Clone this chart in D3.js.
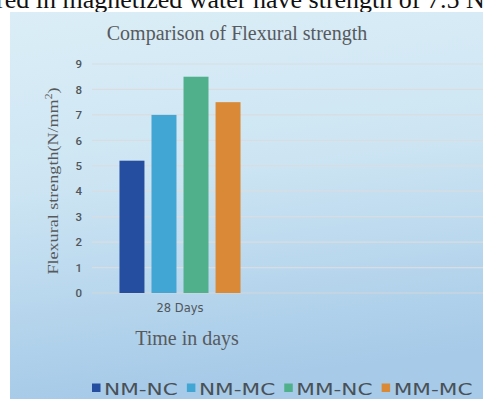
<!DOCTYPE html>
<html>
<head>
<meta charset="utf-8">
<script src="https://cdn.jsdelivr.net/npm/d3@7"></script>
<style>
  html, body { margin: 0; padding: 0; background: #ffffff; }
  svg { display: block; }
</style>
</head>
<body>
<svg id="chart" width="483" height="399"></svg>
<script>
// Flexural strength after 28 days for four mixes
const categories = ["28 Days"];
const seriesNames = ["NM-NC", "NM-MC", "MM-NC", "MM-MC"];
const seriesValues = [5.2, 7.0, 8.5, 7.5];
const seriesColors = ["#254ea1", "#41a6d4", "#4fb08b", "#da8a36"];
const yTicks = [0, 1, 2, 3, 4, 5, 6, 7, 8, 9];

const svg = d3.select("#chart");
const W = 483, H = 399;

// line of running text above the figure
svg.append("text")
  .attr("x", -4).attr("y", 8)
  .attr("font-family", "Liberation Serif, serif")
  .attr("font-size", 26)
  .attr("fill", "#111")
  .text("red in magnetized water have strength of 7.5 N/mm²");

// panel background gradient
const defs = svg.append("defs");
const grad = defs.append("linearGradient")
  .attr("id", "bg").attr("x1", 0).attr("y1", 0).attr("x2", 0.15).attr("y2", 1);
grad.append("stop").attr("offset", "0%").attr("stop-color", "#dbeef7");
grad.append("stop").attr("offset", "45%").attr("stop-color", "#cde5f3");
grad.append("stop").attr("offset", "100%").attr("stop-color", "#a6cae8");

svg.append("rect")
  .attr("x", 10).attr("y", 12)
  .attr("width", W - 10).attr("height", H - 12)
  .attr("fill", "url(#bg)");

// scales
const y = d3.scaleLinear().domain([0, 9]).range([293, 64]);
const x0 = d3.scaleBand().domain(categories).range([92, 268]).padding(0.185);
const x1 = d3.scaleBand().domain(seriesNames).range([0, x0.bandwidth()]).paddingInner(0.22);

// gridlines
svg.append("g")
  .selectAll("line")
  .data(yTicks)
  .join("line")
  .attr("x1", 92).attr("x2", W)
  .attr("y1", d => y(d)).attr("y2", d => y(d))
  .attr("stroke", d => d === 0 ? "#d3d8dc" : "#d9dde1")
  .attr("stroke-width", 1.2);

// y axis tick labels
const yAxis = d3.axisLeft(y).tickValues(yTicks).tickSize(0).tickPadding(0).tickFormat(d3.format("d"));
const gy = svg.append("g").attr("transform", "translate(82,0)").call(yAxis);
gy.select(".domain").remove();
gy.selectAll("text")
  .attr("font-family", "Roboto, sans-serif")
  .attr("font-size", 11.5)
  .attr("font-weight", 500)
  .attr("fill", "#51565a");

// bars
const group = svg.append("g")
  .selectAll("g")
  .data(categories)
  .join("g")
  .attr("transform", d => `translate(${x0(d)},0)`);

group.selectAll("rect")
  .data(() => seriesNames.map((s, i) => ({ name: s, value: seriesValues[i], color: seriesColors[i] })))
  .join("rect")
  .attr("x", d => x1(d.name))
  .attr("width", x1.bandwidth())
  .attr("y", d => y(d.value))
  .attr("height", d => y(0) - y(d.value))
  .attr("fill", d => d.color);

// x axis category labels
const xAxis = d3.axisBottom(x0).tickSize(0).tickPadding(0);
const gx = svg.append("g").attr("transform", "translate(0,304)").call(xAxis);
gx.select(".domain").remove();
gx.selectAll("text")
  .attr("font-family", "DejaVu Sans, sans-serif")
  .attr("font-size", 11.5)
  .attr("fill", "#51565a");

// chart title
svg.append("text")
  .attr("x", 237).attr("y", 40)
  .attr("text-anchor", "middle")
  .attr("font-family", "Liberation Serif, serif")
  .attr("font-size", 20)
  .attr("fill", "#575a5d")
  .text("Comparison of Flexural strength");

// axis titles
svg.append("text")
  .attr("x", 187).attr("y", 345)
  .attr("text-anchor", "middle")
  .attr("font-family", "Liberation Serif, serif")
  .attr("font-size", 20)
  .attr("fill", "#575a5d")
  .text("Time in days");

const yTitle = svg.append("text")
  .attr("transform", "translate(58,181) rotate(-90)")
  .attr("text-anchor", "middle")
  .attr("font-family", "Liberation Serif, serif")
  .attr("font-size", 15.5)
  .attr("fill", "#575a5d")
  .attr("textLength", 187)
  .attr("lengthAdjust", "spacingAndGlyphs");
yTitle.append("tspan").text("Flexural strength(N/mm");
yTitle.append("tspan").attr("font-size", 10).attr("dy", -6).text("2");
yTitle.append("tspan").attr("dy", 6).text(")");

// legend: wide geometric lettering, glyphs stretched horizontally
const legend = svg.append("g").attr("transform", "translate(92,388)");
const stretch = 1.31;
let lx = 0;
seriesNames.forEach((name, i) => {
  const item = legend.append("g").attr("transform", `translate(${lx},0)`);
  item.append("rect")
    .attr("x", 0).attr("y", -4.5)
    .attr("width", 8.5).attr("height", 8.5)
    .attr("fill", seriesColors[i]);
  const t = item.append("text")
    .attr("x", 12).attr("y", 6.5)
    .attr("font-family", "DejaVu Sans, sans-serif")
    .attr("font-size", 16.5)
    .attr("fill", "#4a5156")
    .text(name);
  const w = t.node().getComputedTextLength() * stretch;
  t.attr("textLength", w).attr("lengthAdjust", "spacingAndGlyphs");
  lx += 12 + w + 9;
});
</script>
</body>
</html>
